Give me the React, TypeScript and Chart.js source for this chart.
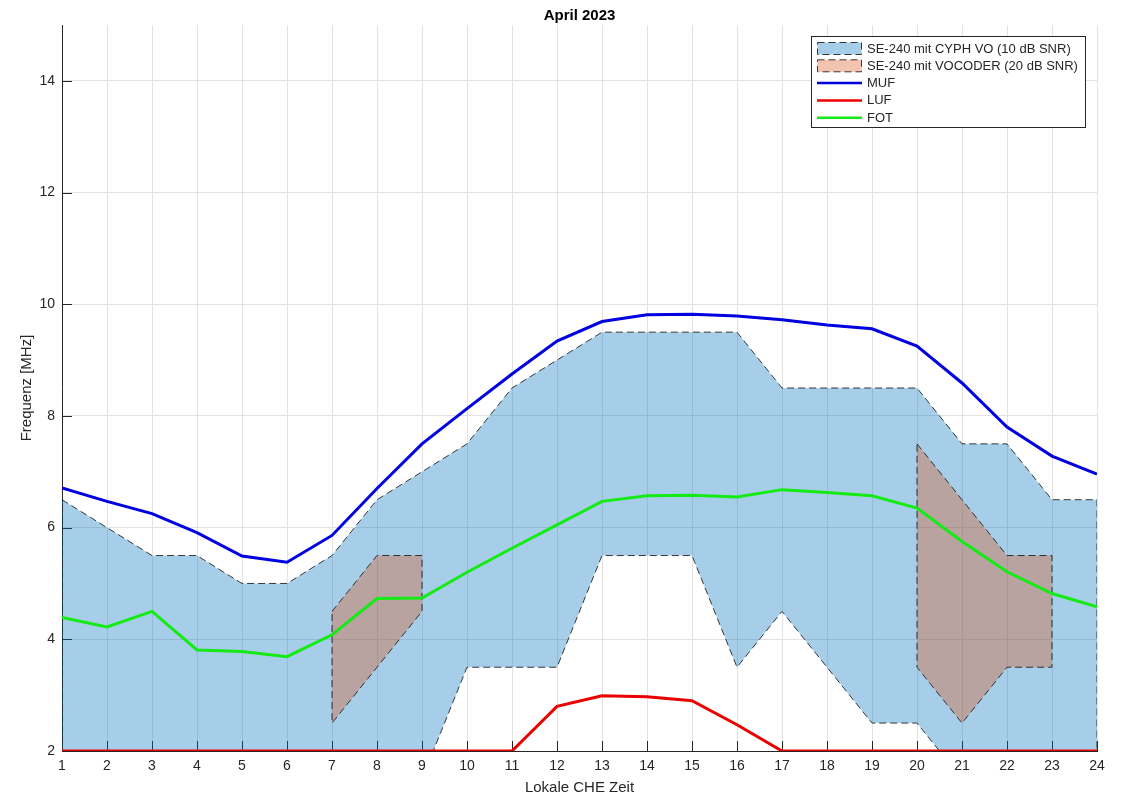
import React, { useEffect, useRef } from "react";
import { Chart, registerables } from "chart.js";

Chart.register(...registerables);

// ---------------- data ----------------
const chartTitle = "April 2023";
const xAxisLabel = "Lokale CHE Zeit";
const yAxisLabel = "Frequenz [MHz]";

const hours = [1, 2, 3, 4, 5, 6, 7, 8, 9, 10, 11, 12, 13, 14, 15, 16, 17, 18, 19, 20, 21, 22, 23, 24];
const xTicks = [1, 2, 3, 4, 5, 6, 7, 8, 9, 10, 11, 12, 13, 14, 15, 16, 17, 18, 19, 20, 21, 22, 23, 24];
const yTicks = [2, 4, 6, 8, 10, 12, 14];

// SE-240 mit CYPH VO (10 dB SNR) band
const cyphUpper = [6.5, 6.0, 5.5, 5.5, 5.0, 5.0, 5.5, 6.5, 7.0, 7.5, 8.5, 9.0, 9.5, 9.5, 9.5, 9.5, 8.5, 8.5, 8.5, 8.5, 7.5, 7.5, 6.5, 6.5];
const cyphLower = [1.5, 1.5, 1.5, 1.5, 1.5, 1.5, 1.5, 1.5, 1.5, 3.5, 3.5, 3.5, 5.5, 5.5, 5.5, 3.5, 4.5, 3.5, 2.5, 2.5, 1.5, 1.5, 1.5, 1.5];

// SE-240 mit VOCODER (20 dB SNR) bands
const vocAHours = [7, 8, 9];
const vocAUpper = [4.5, 5.5, 5.5];
const vocALower = [2.5, 3.5, 4.5];
const vocBHours = [20, 21, 22, 23];
const vocBUpper = [7.5, 6.5, 5.5, 5.5];
const vocBLower = [3.5, 2.5, 3.5, 3.5];

// lines
const muf = [6.71, 6.47, 6.25, 5.91, 5.49, 5.38, 5.86, 6.7, 7.5, 8.13, 8.75, 9.34, 9.69, 9.81, 9.82, 9.79, 9.72, 9.63, 9.56, 9.25, 8.59, 7.8, 7.28, 6.96];
const luf = [2, 2, 2, 2, 2, 2, 2, 2, 2, 2, 2, 2.8, 2.99, 2.97, 2.9, 2.47, 2, 2, 2, 2, 2, 2, 2, 2];
const fot = [4.39, 4.22, 4.5, 3.81, 3.78, 3.69, 4.08, 4.73, 4.74, 5.2, 5.63, 6.05, 6.47, 6.57, 6.58, 6.55, 6.68, 6.63, 6.57, 6.35, 5.75, 5.21, 4.82, 4.58];

const labels = [
  "SE-240 mit CYPH VO (10 dB SNR)",
  "SE-240 mit VOCODER (20 dB SNR)",
  "MUF",
  "LUF",
  "FOT",
];

// ---------------- helpers ----------------
function polygon(xs: number[], upper: number[], lower: number[]) {
  const pts: { x: number; y: number }[] = xs.map((x, i) => ({ x, y: upper[i] }));
  for (let i = xs.length - 1; i >= 0; i--) pts.push({ x: xs[i], y: lower[i] });
  pts.push({ x: xs[0], y: upper[0] });
  return pts;
}
function series(xs: number[], ys: number[]) {
  return xs.map((x, i) => ({ x, y: ys[i] }));
}

const FONT = "'Liberation Sans', Arial, Helvetica, sans-serif";
const TEXT = "#262626";
const EDGE = "rgba(25,25,25,0.85)";
const DASH = [7, 4];
const BLUE_FILL = "rgba(0,114,189,0.35)";
const BROWN_FILL = "rgba(217,83,25,0.35)";

const decorPlugin = {
  id: "decor",
  beforeDatasetsDraw(chart: any) {
    const { ctx, chartArea, scales } = chart;
    const xs = scales.x;
    const ys = scales.y;
    ctx.save();
    ctx.strokeStyle = TEXT;
    ctx.lineWidth = 1;
    ctx.beginPath();
    for (const h of xTicks) {
      const px = Math.round(xs.getPixelForValue(h)) + 0.5;
      ctx.moveTo(px, chartArea.bottom);
      ctx.lineTo(px, chartArea.bottom - 10);
    }
    for (const v of yTicks) {
      const py = Math.round(ys.getPixelForValue(v)) + 0.5;
      ctx.moveTo(chartArea.left, py);
      ctx.lineTo(chartArea.left + 10, py);
    }
    ctx.stroke();
    ctx.restore();
  },
  afterDraw(chart: any) {
    const { ctx, chartArea } = chart;
    const cx = (chartArea.left + chartArea.right) / 2;
    const cy = (chartArea.top + chartArea.bottom) / 2;
    ctx.save();
    // title
    ctx.fillStyle = "#000";
    ctx.font = `bold 15px ${FONT}`;
    ctx.textAlign = "center";
    ctx.textBaseline = "alphabetic";
    ctx.fillText(chartTitle, cx, 19.5);
    // x label
    ctx.fillStyle = TEXT;
    ctx.font = `15px ${FONT}`;
    ctx.fillText(xAxisLabel, cx, 792);
    // y label
    ctx.save();
    ctx.translate(31, cy);
    ctx.rotate(-Math.PI / 2);
    ctx.fillText(yAxisLabel, 0, 0);
    ctx.restore();

    // legend
    const bx = 811.5, by = 36.5, bw = 274, bh = 91;
    ctx.fillStyle = "#fff";
    ctx.fillRect(bx, by, bw, bh);
    ctx.strokeStyle = TEXT;
    ctx.lineWidth = 1;
    ctx.setLineDash([]);
    ctx.strokeRect(bx, by, bw, bh);
    const ds = chart.data.datasets;
    const entries = [0, 1, 2, 3, 4];
    ctx.font = `13px ${FONT}`;
    ctx.textAlign = "left";
    ctx.textBaseline = "middle";
    entries.forEach((di, i) => {
      const d = ds[di];
      const rowY = 48.5 + i * 17.3;
      if (d.fill) {
        ctx.fillStyle = "#fff";
        ctx.fillRect(817.5, rowY - 6, 44, 12);
        ctx.fillStyle = d.backgroundColor;
        ctx.fillRect(817.5, rowY - 6, 44, 12);
        ctx.strokeStyle = EDGE;
        ctx.lineWidth = 1;
        ctx.setLineDash(DASH);
        ctx.strokeRect(817.5, rowY - 6, 44, 12);
        ctx.setLineDash([]);
      } else {
        ctx.strokeStyle = d.borderColor;
        ctx.lineWidth = 2.5;
        ctx.beginPath();
        ctx.moveTo(817, rowY);
        ctx.lineTo(862, rowY);
        ctx.stroke();
      }
      ctx.fillStyle = TEXT;
      ctx.fillText(d.label, 867, rowY + 0.5);
    });
    ctx.restore();
  },
};

export default function App() {
  const ref = useRef<HTMLCanvasElement>(null);
  useEffect(() => {
    if (!ref.current) return;
    const patchBase = {
      type: "line" as const,
      fill: "shape" as any,
      borderColor: EDGE,
      borderWidth: 1,
      borderDash: DASH,
      pointRadius: 0,
      tension: 0,
    };
    const lineBase = {
      type: "line" as const,
      fill: false,
      borderWidth: 3,
      pointRadius: 0,
      tension: 0,
    };
    const chart = new Chart(ref.current, {
      type: "line",
      data: {
        datasets: [
          { ...patchBase, label: labels[0], data: polygon(hours, cyphUpper, cyphLower), backgroundColor: BLUE_FILL, order: 10 },
          { ...patchBase, label: labels[1], data: polygon(vocAHours, vocAUpper, vocALower), backgroundColor: BROWN_FILL, order: 9 },
          { ...lineBase, label: labels[2], data: series(hours, muf), borderColor: "rgb(0,0,225)", order: 3 },
          { ...lineBase, label: labels[3], data: series(hours, luf), borderColor: "rgb(235,0,0)", order: 2 },
          { ...lineBase, label: labels[4], data: series(hours, fot), borderColor: "rgb(20,235,20)", order: 1 },
          { ...patchBase, label: "", data: polygon(vocBHours, vocBUpper, vocBLower), backgroundColor: BROWN_FILL, order: 8 },
        ] as any,
      },
      options: {
        responsive: false,
        animation: false,
        devicePixelRatio: 1,
        layout: { padding: { left: 0, right: 27, top: 25, bottom: 0 } },
        plugins: {
          legend: { display: false },
          title: { display: false },
          tooltip: { enabled: false },
        },
        scales: {
          x: {
            type: "linear",
            min: 1,
            max: 24,
            afterBuildTicks: (s: any) => {
              s.ticks = xTicks.map((v) => ({ value: v }));
            },
            afterFit: (s: any) => {
              s.height = 47;
            },
            grid: { color: "#e2e2e2", drawTicks: false, lineWidth: 1 },
            border: { display: true, color: TEXT, width: 1 },
            ticks: {
              padding: 7,
              color: TEXT,
              font: { family: FONT, size: 14 },
              maxRotation: 0,
              autoSkip: false,
            },
          },
          y: {
            type: "linear",
            min: 2,
            max: 15,
            afterBuildTicks: (s: any) => {
              s.ticks = yTicks.map((v) => ({ value: v }));
            },
            afterFit: (s: any) => {
              s.width = 62;
            },
            grid: { color: "#e2e2e2", drawTicks: false, lineWidth: 1 },
            border: { display: true, color: TEXT, width: 1 },
            ticks: {
              padding: 7,
              color: TEXT,
              font: { family: FONT, size: 14 },
              autoSkip: false,
            },
          },
        },
      } as any,
      plugins: [decorPlugin],
    });
    return () => chart.destroy();
  }, []);
  return (
    <div style={{ position: "absolute", left: 0, top: 0, width: 1124, height: 798, background: "#fff" }}>
      <canvas ref={ref} width={1124} height={798} style={{ display: "block", width: 1124, height: 798 }} />
    </div>
  );
}
